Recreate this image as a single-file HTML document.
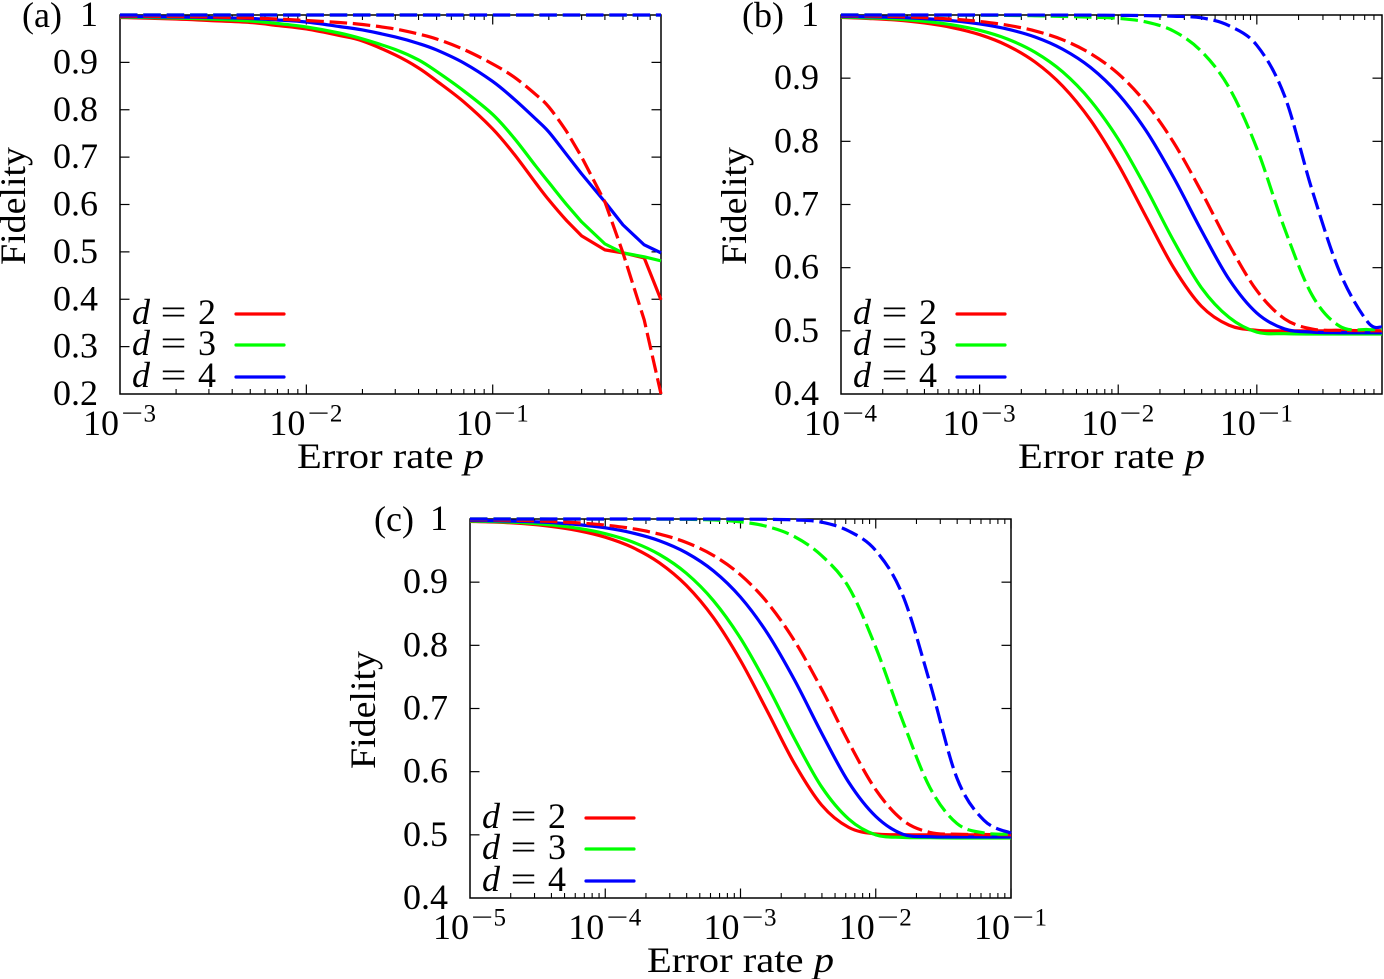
<!DOCTYPE html>
<html lang="en">
<head>
<meta charset="utf-8">
<title>Fidelity versus error rate</title>
<style>
html,body{margin:0;padding:0;background:#fff;}
#figure{display:block;width:1384px;height:979px;}
text{font-family:"Liberation Serif",serif;fill:#000;}
</style>
</head>
<body>
<svg id="figure" xmlns="http://www.w3.org/2000/svg" width="1384" height="979" viewBox="0 0 1384 979"></svg>
<script>
// ---------- Panel (a) ----------
const errorRatesA = [0.001,0.002,0.003,0.005,0.007,0.01,0.015,0.02,0.03,0.04,0.05,0.07,0.1,0.13,0.17,0.2,0.25,0.3,0.4,0.5,0.65,0.8];
const aD2Solid = [.9947,.9916,.9884,.9842,.9778,.9705,.9568,.9451,.9156,.8882,.8608,.8165,.7595,.7068,.6456,.6097,.5654,.5338,.5042,.4979,.4873,.3987];
const aD3Solid = [.9958,.9937,.9916,.9873,.9821,.9747,.962,.9494,.9272,.9051,.8808,.8397,.7901,.7405,.6814,.6466,.5992,.5633,.5169,.4979,.4895,.481];
const aD4Solid = [.9968,.9958,.9947,.9926,.9895,.9852,.9757,.9684,.9536,.9399,.9262,.8987,.8597,.8228,.7806,.7532,.7046,.6646,.6055,.557,.5148,.4979];
const aD2Dashed = [.9979,.9968,.9958,.9937,.9916,.9884,.9842,.98,.9705,.9599,.9494,.9272,.8966,.8692,.8323,.8059,.7532,.7004,.6055,.4979,.3565,.2];
const aD3Dashed = [1,1,1,1,1,1,1,1,1,1,.9999,.9999,.9999,.9999,.9999,.9999,.9999,.9999,.9999,.9999,.9999,.9999];
const aD4Dashed = [1,1,1,1,1,1,1,1,1,1,1,1,1,1,1,1,1,1,1,1,1,1];
const yTicksA = [0.2,0.3,0.4,0.5,0.6,0.7,0.8,0.9,1];
const yTickLabelsA = ["0.2","0.3","0.4","0.5","0.6","0.7","0.8","0.9","1"];
const xExponentsA = [-3,-2,-1];

// ---------- Panel (b) ----------
const errorRatesB = [1e-4,1.585e-4,2.512e-4,3.981e-4,6.31e-4,1e-3,1.585e-3,2.512e-3,3.981e-3,6.31e-3,1e-2,1.585e-2,2.512e-2,3.981e-2,6.31e-2,0.1,0.1585,0.2512,0.3981,0.631,0.8];
const bD2Solid = [.9962,.9945,.992,.9874,.9802,.969,.9517,.9256,.8873,.8336,.7634,.681,.5999,.539,.5088,.5008,.5,.5,.5,.5,.5];
const bD3Solid = [.9968,.9955,.9937,.99,.9844,.9757,.962,.941,.9098,.8647,.8034,.7263,.6424,.5684,.5213,.498,.4955,.495,.495,.495,.495];
const bD4Solid = [.9978,.9972,.9962,.9943,.991,.9858,.9777,.9652,.9458,.917,.875,.8171,.7427,.6591,.5814,.5281,.503,.498,.497,.497,.497];
const bD2Dashed = [.999,.9984,.9974,.9959,.9935,.9898,.9839,.9748,.9607,.939,.9071,.8606,.7981,.7203,.6363,.5637,.5191,.5028,.5008,.5002,.5];
const bD3Dashed = [1,1,.9999,.9999,.9998,.9997,.9994,.9988,.9978,.9965,.9947,.989,.9745,.9425,.885,.789,.662,.556,.507,.502,.503];
const bD4Dashed = [1,1,1,1,1,1,1,.9999,.9999,.9998,.9995,.999,.998,.9955,.983,.952,.872,.722,.592,.514,.506];
const yTicksB = [0.4,0.5,0.6,0.7,0.8,0.9,1];
const yTickLabelsB = ["0.4","0.5","0.6","0.7","0.8","0.9","1"];
const xExponentsB = [-4,-3,-2,-1];

// ---------- Panel (c) ----------
const errorRatesC = [1e-5,1.585e-5,2.512e-5,3.981e-5,6.31e-5,1e-4,1.585e-4,2.512e-4,3.981e-4,6.31e-4,1e-3,1.585e-3,2.512e-3,3.981e-3,6.31e-3,1e-2,1.585e-2,2.512e-2,3.981e-2,6.31e-2,0.1];
const cD2Solid = [.9962,.995,.9926,.9883,.9816,.9712,.9551,.9307,.8947,.8437,.776,.6951,.6124,.547,.5118,.5013,.5002,.5,.5,.5,.5];
const cD3Solid = [.9968,.9958,.9941,.9906,.9852,.9768,.9638,.9439,.914,.8707,.8112,.7357,.652,.5758,.525,.5,.496,.4955,.495,.495,.495];
const cD4Solid = [.9978,.9972,.9962,.9944,.9911,.986,.978,.9656,.9465,.9179,.8763,.8187,.7449,.6611,.5832,.5292,.501,.497,.4965,.4965,.4965];
const cD2Dashed = [.999,.9985,.9976,.9961,.9939,.9904,.9848,.9761,.9628,.9423,.9116,.8674,.8068,.7306,.6466,.5715,.523,.5038,.501,.5005,.5];
const cD3Dashed = [1,1,1,.9999,.9999,.9999,.9998,.9998,.9995,.9985,.9955,.988,.972,.942,.892,.797,.68,.575,.518,.503,.501];
const cD4Dashed = [1,1,1,1,1,1,1,1,.9999,.9999,.9998,.9995,.9985,.995,.981,.95,.879,.741,.59,.523,.5026];
const yTicksC = [0.4,0.5,0.6,0.7,0.8,0.9,1];
const yTickLabelsC = ["0.4","0.5","0.6","0.7","0.8","0.9","1"];
const xExponentsC = [-5,-4,-3,-2,-1];

// ---------- Shared labels ----------
const legendValues = ["2","3","4"];
const legendColors = ["#ff0000","#00ff00","#0000ff"];

const NS = "http://www.w3.org/2000/svg";
const root = document.getElementById("figure");

function make(tag, parent){
  const el = document.createElementNS(NS, tag);
  parent.appendChild(el);
  return el;
}

function drawLine(parent, x1, y1, x2, y2, width, name){
  const el = make("line", parent);
  
  
  el.setAttribute("x1", x1);
  el.setAttribute("y1", y1);
  el.setAttribute("x2", x2);
  el.setAttribute("y2", y2);
  el.setAttribute("stroke", "#000");
  el.setAttribute("stroke-width", width);
  return el;
}

function curvePath(points, straightFrom){
  let d = "M" + points[0][0].toFixed(2) + " " + points[0][1].toFixed(2);
  for(let i = 0; i < points.length - 1; i++){
    const p0 = points[Math.max(0, i - 1)], p1 = points[i], p2 = points[i + 1], p3 = points[Math.min(points.length - 1, i + 2)];
    if(i >= straightFrom){
      d += "L" + p2[0].toFixed(2) + " " + p2[1].toFixed(2);
      continue;
    }
    const c1x = p1[0] + (p2[0] - p0[0]) / 6, c1y = p1[1] + (p2[1] - p0[1]) / 6;
    const c2x = p2[0] - (p3[0] - p1[0]) / 6, c2y = p2[1] - (p3[1] - p1[1]) / 6;
    d += "C" + c1x.toFixed(2) + " " + c1y.toFixed(2) + " " + c2x.toFixed(2) + " " + c2y.toFixed(2) + " " + p2[0].toFixed(2) + " " + p2[1].toFixed(2);
  }
  return d;
}

function drawPanel(panel){
  const g = make("g", root);
  
  

  const xScale = p => panel.left + (Math.log10(p) - panel.xMinExp) / (panel.xMaxExp - panel.xMinExp) * (panel.right - panel.left);
  const yScale = f => panel.bottom - (f - panel.yMin) / (panel.yMax - panel.yMin) * (panel.bottom - panel.top);

  // y ticks and labels
  panel.yTicks.forEach((value, i) => {
    const y = yScale(value);
    if(i > 0 && i < panel.yTicks.length - 1){
      drawLine(g, panel.left, y, panel.left + 9.5, y, 1.2, "y-tick-left");
      drawLine(g, panel.right, y, panel.right - 9.5, y, 1.2, "y-tick-right");
    }
    const label = make("text", g);
    
    
    label.setAttribute("x", panel.left - 22);
    label.setAttribute("y", y + 11);
    label.setAttribute("text-anchor", "end");
    label.setAttribute("font-size", "36");
    label.textContent = panel.yLabels[i];
  });

  // x ticks and labels
  panel.xExponents.forEach(exp => {
    const major = xScale(Math.pow(10, exp));
    if(exp > panel.xMinExp){
      drawLine(g, major, panel.bottom, major, panel.bottom - 9.5, 1.2, "x-major-tick-bottom");
      drawLine(g, major, panel.top, major, panel.top + 9.5, 1.2, "x-major-tick-top");
    }
    for(let m = 2; m <= 9; m++){
      const p = m * Math.pow(10, exp);
      if(Math.log10(p) >= panel.xMaxExp) break;
      const x = xScale(p);
      drawLine(g, x, panel.bottom, x, panel.bottom - 5, 1.1, "x-minor-tick-bottom");
      drawLine(g, x, panel.top, x, panel.top + 5, 1.1, "x-minor-tick-top");
    }
    const base = make("text", g);
    
    
    base.setAttribute("x", major - 1);
    base.setAttribute("y", panel.bottom + 41);
    base.setAttribute("text-anchor", "end");
    base.setAttribute("font-size", "36");
    base.textContent = "10";
    const minus = make("text", g);
    
    
    minus.setAttribute("x", major + 1);
    minus.setAttribute("y", panel.bottom + 27.5);
    minus.setAttribute("font-size", "25");
    minus.setAttribute("textLength", "22");
    minus.setAttribute("lengthAdjust", "spacingAndGlyphs");
    minus.textContent = "\u2212";
    const sup = make("text", g);
    
    
    sup.setAttribute("x", major + 23.5);
    sup.setAttribute("y", panel.bottom + 27.5);
    sup.setAttribute("font-size", "25");
    sup.textContent = String(Math.abs(exp));
  });

  // frame
  const frame = make("rect", g);
  
  
  frame.setAttribute("x", panel.left);
  frame.setAttribute("y", panel.top);
  frame.setAttribute("width", panel.right - panel.left);
  frame.setAttribute("height", panel.bottom - panel.top);
  frame.setAttribute("fill", "none");
  frame.setAttribute("stroke", "#000");
  frame.setAttribute("stroke-width", "1.5");

  // series
  panel.series.forEach(s => {
    const points = panel.rates.map((p, i) => [xScale(p), yScale(s.values[i])]);
    const path = make("path", g);
    
    
    path.setAttribute("d", curvePath(points, panel.straightFrom));
    path.setAttribute("fill", "none");
    path.setAttribute("stroke", s.color);
    path.setAttribute("stroke-width", "3.2");
    path.setAttribute("stroke-linejoin", "round");
    if(s.dashed){
      path.setAttribute("stroke-dasharray", "17.5 5.8");
    }
  });

  // legend
  legendValues.forEach((v, i) => {
    const offset = [0, 31, 63][i];
    const lineY = panel.bottom - 80 + offset;
    const entry = make("g", g);
    
    
    const symbol = make("text", entry);
    
    
    symbol.setAttribute("x", panel.left + 12);
    symbol.setAttribute("y", lineY + 10);
    symbol.setAttribute("font-size", "36");
    symbol.setAttribute("font-style", "italic");
    symbol.textContent = "d";
    const equals = make("text", entry);
    
    
    equals.setAttribute("x", panel.left + 40.5);
    equals.setAttribute("y", lineY + 10);
    equals.setAttribute("font-size", "36");
    equals.setAttribute("textLength", "26");
    equals.setAttribute("lengthAdjust", "spacingAndGlyphs");
    equals.textContent = "=";
    const digit = make("text", entry);
    
    
    digit.setAttribute("x", panel.left + 78);
    digit.setAttribute("y", lineY + 10);
    digit.setAttribute("font-size", "36");
    digit.textContent = v;
    const sample = make("line", entry);
    
    
    sample.setAttribute("x1", panel.left + 116);
    sample.setAttribute("x2", panel.left + 164);
    sample.setAttribute("y1", lineY);
    sample.setAttribute("y2", lineY);
    sample.setAttribute("stroke", legendColors[i]);
    sample.setAttribute("stroke-width", "3.2");
    sample.setAttribute("stroke-linecap", "round");
  });

  // axis titles
  const xTitle = make("text", g);
  
  
  xTitle.setAttribute("x", panel.left + 177);
  xTitle.setAttribute("y", panel.bottom + 74);
  xTitle.setAttribute("font-size", "36");
  xTitle.setAttribute("textLength", "187");
  xTitle.setAttribute("lengthAdjust", "spacingAndGlyphs");
  const xWords = make("tspan", xTitle);
  xWords.textContent = "Error rate ";
  const xVar = make("tspan", xTitle);
  xVar.setAttribute("font-style", "italic");
  xVar.textContent = "p";

  const yTitle = make("text", g);
  
  
  yTitle.setAttribute("transform", "translate(" + (panel.left - 95) + " " + (panel.top + 250) + ") rotate(-90)");
  yTitle.setAttribute("font-size", "36");
  yTitle.setAttribute("textLength", "118");
  yTitle.setAttribute("lengthAdjust", "spacingAndGlyphs");
  yTitle.textContent = "Fidelity";

  const tag = make("text", g);
  
  
  tag.setAttribute("x", panel.tagX);
  tag.setAttribute("y", panel.tagY);
  tag.setAttribute("font-size", "36");
  tag.textContent = "(" + panel.id + ")";
}

function seriesList(id, v){
  return [
    {name: id + "-d2-solid-curve", color: legendColors[0], dashed: false, values: v[0]},
    {name: id + "-d3-solid-curve", color: legendColors[1], dashed: false, values: v[1]},
    {name: id + "-d4-solid-curve", color: legendColors[2], dashed: false, values: v[2]},
    {name: id + "-d2-dashed-curve", color: legendColors[0], dashed: true, values: v[3]},
    {name: id + "-d3-dashed-curve", color: legendColors[1], dashed: true, values: v[4]},
    {name: id + "-d4-dashed-curve", color: legendColors[2], dashed: true, values: v[5]}
  ];
}

drawPanel({
  id: "a", left: 120, right: 661, top: 15, bottom: 394, tagX: 22, tagY: 27,
  xMinExp: -3, xMaxExp: Math.log10(0.8), yMin: 0.2, yMax: 1, straightFrom: 16,
  rates: errorRatesA, yTicks: yTicksA, yLabels: yTickLabelsA, xExponents: xExponentsA,
  series: seriesList("a", [aD2Solid, aD3Solid, aD4Solid, aD2Dashed, aD3Dashed, aD4Dashed])
});
drawPanel({
  id: "b", left: 841, right: 1382, top: 15, bottom: 394, tagX: 742, tagY: 27,
  xMinExp: -4, xMaxExp: Math.log10(0.8), yMin: 0.4, yMax: 1, straightFrom: 99,
  rates: errorRatesB, yTicks: yTicksB, yLabels: yTickLabelsB, xExponents: xExponentsB,
  series: seriesList("b", [bD2Solid, bD3Solid, bD4Solid, bD2Dashed, bD3Dashed, bD4Dashed])
});
drawPanel({
  id: "c", left: 470, right: 1011, top: 519, bottom: 898, tagX: 374, tagY: 531,
  xMinExp: -5, xMaxExp: -1, yMin: 0.4, yMax: 1, straightFrom: 99,
  rates: errorRatesC, yTicks: yTicksC, yLabels: yTickLabelsC, xExponents: xExponentsC,
  series: seriesList("c", [cD2Solid, cD3Solid, cD4Solid, cD2Dashed, cD3Dashed, cD4Dashed])
});
</script>
</body>
</html>
